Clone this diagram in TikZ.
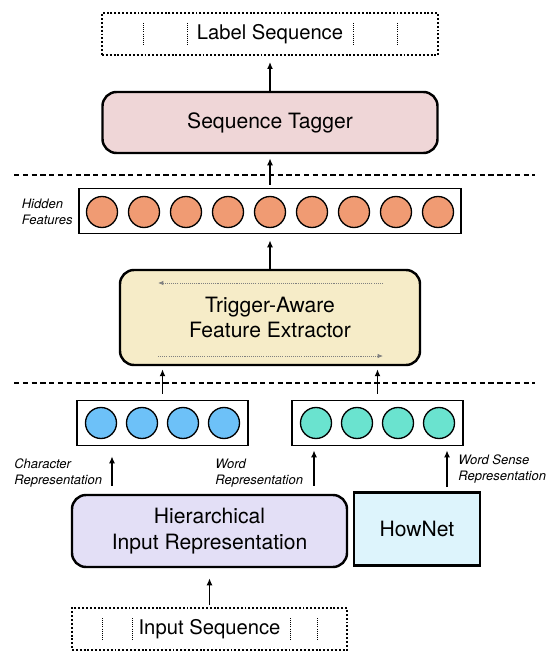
\documentclass[tikz,border=0pt]{standalone}
\usepackage{fontspec}
\setmainfont{TeX Gyre Heros}
\usetikzlibrary{arrows.meta,positioning}

\definecolor{taggerfill}{HTML}{EFD6D7}
\definecolor{hiddenfill}{HTML}{F09B73}
\definecolor{extractfill}{HTML}{F6ECC8}
\definecolor{charfill}{HTML}{6DC1F8}
\definecolor{wordfill}{HTML}{6AE3CF}
\definecolor{hierfill}{HTML}{E3DFF6}
\definecolor{hownetfill}{HTML}{DDF4FC}

\tikzset{
      seqbox/.style={
        draw,
        line width=1.1pt,
        dash pattern=on 1.1pt off 1.1pt,
        minimum height=0.84cm,
        inner sep=0pt,
        font=\fontsize{11.5}{14}\selectfont
      },
      blockbox/.style={
        draw,
        line width=1.4pt,
        rounded corners=8pt,
        align=center,
        inner sep=0pt,
        font=\fontsize{12}{14.7}\selectfont
      },
      vecbox/.style={
        draw,
        line width=0.9pt,
        minimum height=0.9cm,
        inner sep=0pt
      },
      unit/.style={
        circle,
        draw,
        line width=0.75pt,
        minimum size=0.62cm,
        inner sep=0pt
      },
      flow/.style={-{Latex[length=4pt,width=3.4pt]}, line width=0.9pt},
      layerline/.style={dash pattern=on 3pt off 2pt, line width=0.9pt},
      featlabel/.style={anchor=west, align=left, inner sep=0pt, font=\fontsize{7.4}{9.4}\selectfont\itshape},
      sepline/.style={line width=0.5pt, dash pattern=on 0.6pt off 0.6pt},
      scanline/.style={-{Latex[length=3pt,width=2.4pt]}, gray, line width=0.4pt, dash pattern=on 0.6pt off 0.6pt}
    }

\begin{document}
\begin{tikzpicture}[x=1cm,y=1cm]
    \useasboundingbox (0,0) rectangle (11,-13.06);

    % output side
    \node[seqbox, minimum width=6.72cm] (labelseq) at (5.4,-0.68) {Label Sequence};
    \foreach \dx in {-2.54,-1.66,1.66,2.54}
      \draw[sepline] ([xshift=\dx cm,yshift=0.22cm]labelseq.center) -- ++(0,-0.44);
    \node[blockbox, fill=taggerfill, minimum width=6.7cm, minimum height=1.22cm] (tagger) at (5.4,-2.45) {Sequence Tagger};

    \draw[layerline] (0.28,-3.5) -- (10.7,-3.5);

    \node[vecbox, minimum width=7.64cm] (hidden) at (5.4,-4.22) {};
    \foreach \i in {1,...,9}
      \node[unit, fill=hiddenfill] (h\i) at (1.2+0.84*\i,-4.24) {};
    \node[featlabel] (hiddenlbl) at (0.43,-4.24) {Hidden\\Features};

    \node[blockbox, fill=extractfill, minimum width=6cm, minimum height=1.9cm] (extractor) at (5.4,-6.35) {Trigger-Aware\\Feature Extractor};
    \draw[scanline] (7.66,-5.66) -- (3.16,-5.66);
    \draw[scanline] (3.16,-7.12) -- (7.66,-7.12);

    \draw[layerline] (0.28,-7.66) -- (10.7,-7.66);

    % input side
    \node[vecbox, minimum width=3.42cm] (charvec) at (3.25,-8.46) {};
    \foreach \i in {1,...,4}
      \node[unit, fill=charfill] (c\i) at (1.2+0.82*\i,-8.46) {};
    \node[vecbox, minimum width=3.42cm] (wordvec) at (7.55,-8.46) {};
    \foreach \i in {1,...,4}
      \node[unit, fill=wordfill] (w\i) at (5.5+0.82*\i,-8.46) {};

    \node[featlabel] (charlbl) at (0.28,-9.46) {Character\\Representation};
    \node[featlabel] (wordlbl) at (4.3,-9.46) {Word\\Representation};
    \node[featlabel] (senselbl) at (9.16,-9.38) {Word Sense\\Representation};

    \node[blockbox, fill=hierfill, minimum width=5.5cm, minimum height=1.44cm] (hier) at (4.19,-10.62) {Hierarchical\\Input Representation};
    \node[draw, line width=1.4pt, fill=hownetfill, minimum width=2.52cm, minimum height=1.46cm, font=\fontsize{12}{14.7}\selectfont] (hownet) at (8.34,-10.58) {HowNet};

    \node[seqbox, minimum width=5.5cm] (inputseq) at (4.19,-12.58) {Input Sequence};
    \foreach \dx in {-2.15,-1.55,1.61,2.15}
      \draw[sepline] ([xshift=\dx cm,yshift=0.22cm]inputseq.center) -- ++(0,-0.44);

    \draw[flow, shorten <=1.1pt, shorten >=5.7pt] (inputseq.north) -- (hier.south);
    \draw[flow, shorten <=4.5pt, shorten >=5.7pt] ([xshift=-1.95cm]hier.north) -- ([xshift=-1.01cm]charvec.south);
    \draw[flow, shorten <=4.5pt, shorten >=2.3pt] ([xshift=2.09cm]hier.north) -- ([xshift=-1.27cm]wordvec.south);
    \draw[flow, shorten <=2.3pt, shorten >=2.3pt] ([xshift=0.6cm]hownet.north) -- ([xshift=1.39cm]wordvec.south);
    \draw[flow, shorten <=3.4pt, shorten >=1.7pt] (charvec.north) -- (charvec.north |- extractor.south);
    \draw[flow, shorten <=3.4pt, shorten >=1.7pt] (wordvec.north) -- (wordvec.north |- extractor.south);
    \draw[flow, shorten >=3.4pt] (extractor.north) -- (hidden.south);
    \draw[flow, shorten <=1.7pt, shorten >=2.3pt] (hidden.north) -- (tagger.south);
    \draw[flow, shorten >=3.4pt] (tagger.north) -- (labelseq.south);
\end{tikzpicture}
\end{document}
